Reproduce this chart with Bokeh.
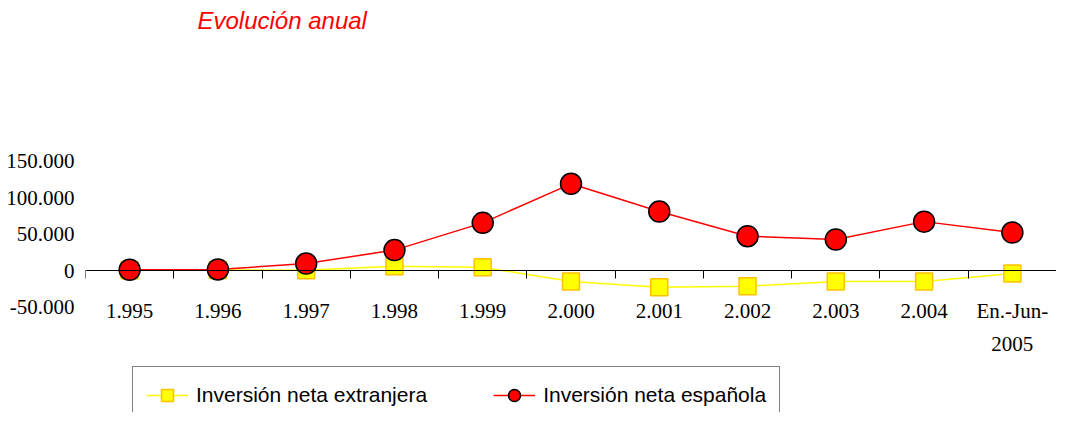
from bokeh.plotting import figure
from bokeh.models import (FactorRange, Range1d, LinearAxis, FixedTicker, Legend, LegendItem, Label)
from bokeh.embed import file_html
from bokeh.resources import INLINE

# ---- data ----
categories = ["1.995", "1.996", "1.997", "1.998", "1.999", "2.000", "2.001",
              "2.002", "2.003", "2.004", "En.-Jun-\n2005"]
inversion_extranjera = [500, 800, 500, 6000, 4500, -15000, -23000, -21500, -15000, -15000, -4000]
inversion_espanola = [1000, 1500, 9600, 28000, 65300, 118800, 80800, 47000, 42500, 67000, 52000]
y_ticks = [-50000, 0, 50000, 100000, 150000]
y_tick_labels = ["-50.000", "0", "50.000", "100.000", "150.000"]
title_text = "Evolución anual"
label_extranjera = "Inversión neta extranjera"
label_espanola = "Inversión neta española"

SERIF = "Liberation Serif"
SANS = "Liberation Sans"

p = figure(width=1056, height=412, x_range=FactorRange(*categories),
           y_range=Range1d(-194480, 369920), output_backend="svg",
           toolbar_location=None, min_border_left=85, min_border_right=0,
           min_border_top=0, min_border_bottom=0)
p.outline_line_color = None
p.grid.visible = False
p.background_fill_color = "white"
p.border_fill_color = "white"

# title (inside the frame, screen units)
p.add_layout(Label(x=112, y=392, x_units="screen", y_units="screen", text=title_text,
                   text_font=SANS, text_font_style="italic", text_font_size="24px",
                   text_color="#FF0000", text_baseline="middle", text_align="left"))

# y axis
ya = p.yaxis[0]
ya.ticker = FixedTicker(ticks=y_ticks)
ya.major_label_overrides = {t: l for t, l in zip(y_ticks, y_tick_labels)}
ya.axis_line_color = None
ya.major_tick_line_color = None
ya.minor_tick_line_color = None
ya.major_label_standoff = 5
ya.major_label_text_font = SERIF
ya.major_label_text_font_size = "21px"
ya.major_label_text_color = "black"

# categorical x axis at zero
xa = p.xaxis[0]
xa.fixed_location = 0
xa.axis_line_color = "black"
xa.axis_line_width = 1
xa.major_tick_line_color = None
xa.major_tick_in = 0
xa.major_tick_out = 0
xa.major_label_standoff = 28
xa.major_label_text_font = SERIF
xa.major_label_text_font_size = "21px"
xa.major_label_text_color = "black"
xa.major_label_text_line_height = 1.4

# boundary ticks between categories (synthetic coordinates of the factor range)
ea = LinearAxis(ticker=FixedTicker(ticks=list(range(len(categories)))))
ea.fixed_location = 0
ea.axis_line_color = None
ea.major_tick_in = 0
ea.major_tick_out = 8
ea.major_tick_line_color = "black"
ea.minor_tick_line_color = None
ea.major_label_text_color = None
ea.major_label_standoff = 0
p.add_layout(ea, "below")

# series
yl = p.line(categories, inversion_extranjera, line_color="#FFFF00", line_width=1.5)
ys = p.scatter(categories, inversion_extranjera, marker="square", size=17,
               fill_color="#FFFF00", line_color="#FFC000", line_width=1.5)
rl = p.line(categories, inversion_espanola, line_color="#FF0000", line_width=1.5)
rs = p.scatter(categories, inversion_espanola, marker="circle", size=21,
               fill_color="#FF0000", line_color="black", line_width=1.5)

legend = Legend(items=[LegendItem(label=label_extranjera, renderers=[yl, ys]),
                       LegendItem(label=label_espanola, renderers=[rl, rs])],
                orientation="horizontal", location=(47, -12))
legend.border_line_color = "black"
legend.border_line_width = 1
legend.background_fill_color = "white"
legend.background_fill_alpha = 1
legend.label_text_font = SANS
legend.label_text_font_size = "21px"
legend.label_text_color = "black"
legend.glyph_width = 42
legend.glyph_height = 30
legend.label_height = 30
legend.label_standoff = 8
legend.spacing = 66
legend.padding = 13
legend.margin = 0
p.add_layout(legend)

open("out.html", "w").write(file_html(p, INLINE))
